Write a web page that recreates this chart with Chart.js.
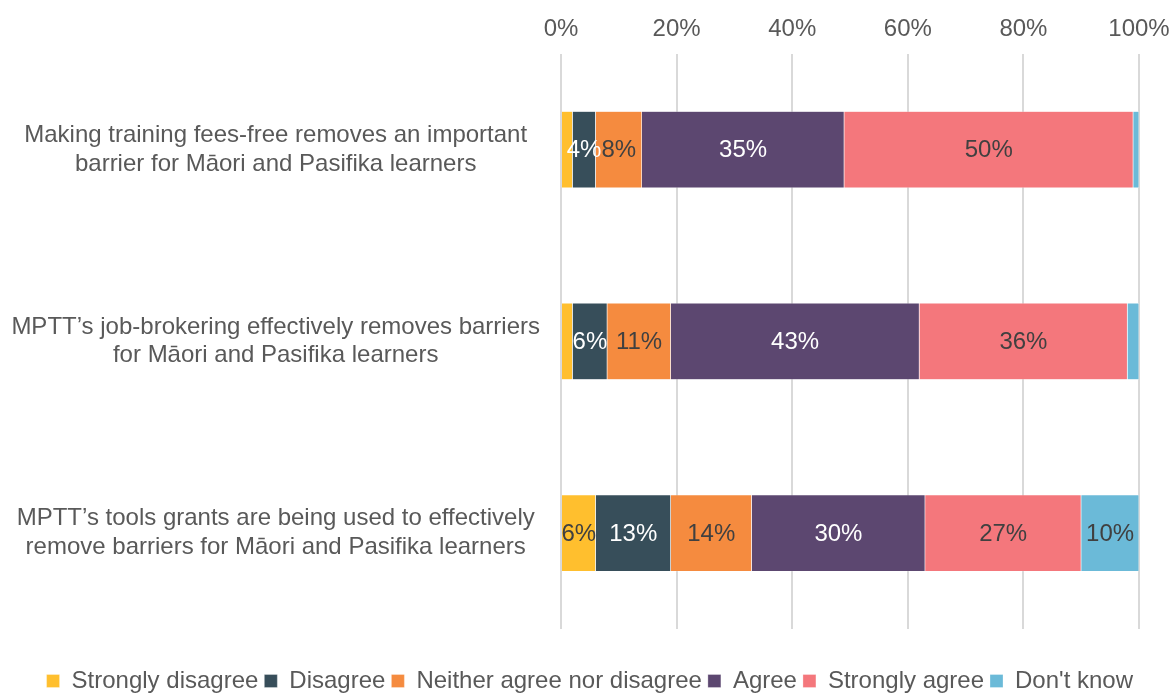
<!DOCTYPE html>
<html>
<head>
<meta charset="utf-8">
<script src="https://cdn.jsdelivr.net/npm/chart.js@4"></script>
<style>
  body { margin: 0; background: #fff; overflow: hidden; }
  #wrap { width: 1173px; height: 703px; }
</style>
</head>
<body>
<div id="wrap"><canvas id="chart"></canvas></div>
<script>
const categories = [
  ['Making training fees-free removes an important', 'barrier for Māori and Pasifika learners'],
  ['MPTT’s job-brokering effectively removes barriers', 'for Māori and Pasifika learners'],
  ['MPTT’s tools grants are being used to effectively', 'remove barriers for Māori and Pasifika learners']
];
const seriesNames = ['Strongly disagree', 'Disagree', 'Neither agree nor disagree', 'Agree', 'Strongly agree', "Don't know"];
const stronglyDisagree = [2, 2, 6];
const disagree = [4, 6, 13];
const neither = [8, 11, 14];
const agree = [35, 43, 30];
const stronglyAgree = [50, 36, 27];
const dontKnow = [1, 2, 10];
const xTicks = [0, 20, 40, 60, 80, 100];

const colors = ['#FFBF2E', '#374E5A', '#F58B3F', '#5C4770', '#F4777C', '#6BBAD8'];
const labelColors = ['#404040', '#ffffff', '#404040', '#ffffff', '#404040', '#404040'];
const allSeries = [stronglyDisagree, disagree, neither, agree, stronglyAgree, dontKnow];
const FONT = '"Liberation Sans", Arial, sans-serif';

// draws the % labels inside the bar segments
const segLabels = {
  id: 'segLabels',
  afterDatasetsDraw(chart) {
    const ctx = chart.ctx;
    ctx.save();
    ctx.font = '24px ' + FONT;
    ctx.textAlign = 'center';
    ctx.textBaseline = 'middle';
    chart.data.datasets.forEach((ds, i) => {
      const meta = chart.getDatasetMeta(i);
      meta.data.forEach((bar, j) => {
        const v = ds.data[j];
        if (v < 3) return;
        ctx.fillStyle = labelColors[i];
        ctx.fillText(v + '%', (bar.x + bar.base) / 2, bar.y + 1);
      });
    });
    ctx.restore();
  }
};

new Chart(document.getElementById('chart'), {
  type: 'bar',
  data: {
    labels: categories,
    datasets: allSeries.map((d, i) => ({
      label: seriesNames[i],
      data: d,
      backgroundColor: colors[i],
      borderColor: 'rgba(255,255,255,0.6)',
      borderWidth: 0.5,
      categoryPercentage: 1,
      barPercentage: 0.4
    }))
  },
  options: {
    indexAxis: 'y',
    responsive: true,
    maintainAspectRatio: false,
    animation: false,
    layout: { padding: { top: 5, right: 34, bottom: 0, left: 0 } },
    plugins: {
      legend: {
        position: 'bottom',
        align: 'end',
        title: { display: true, text: ' ', font: { size: 10 }, padding: { top: 12, bottom: 10 } },
        labels: {
          boxWidth: 13,
          boxHeight: 13,
          padding: 6,
          color: '#595959',
          font: { size: 24, family: FONT }
        }
      },
      tooltip: { enabled: false }
    },
    scales: {
      x: {
        position: 'top',
        stacked: true,
        min: 0,
        max: 100,
        afterBuildTicks: s => { s.ticks = xTicks.map(v => ({ value: v })); },
        afterFit: s => { s.paddingRight = 0; s.paddingLeft = 0; },
        ticks: {
          callback: v => v + '%',
          color: '#595959',
          padding: 10,
          font: { size: 24, family: FONT }
        },
        grid: { color: '#d9d9d9', lineWidth: 2, drawTicks: false },
        border: { display: false }
      },
      y: {
        stacked: true,
        afterFit: s => { s.width = 561; },
        ticks: {
          crossAlign: 'center',
          padding: 13,
          color: '#595959',
          font: { size: 24, family: FONT, lineHeight: 1.2 }
        },
        grid: { display: false },
        border: { display: false }
      }
    }
  },
  plugins: [segLabels]
});
</script>
</body>
</html>
